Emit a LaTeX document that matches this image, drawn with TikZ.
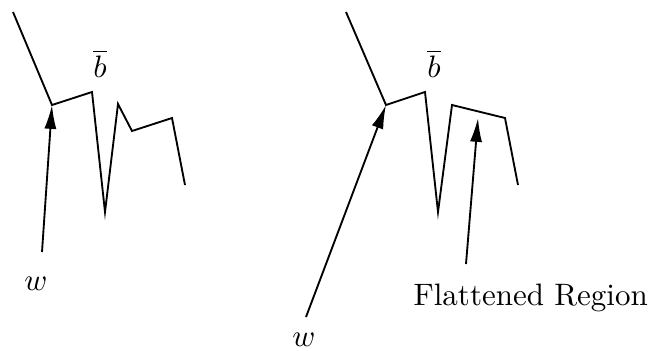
\documentclass[tikz,border=0pt]{standalone}
\usetikzlibrary{arrows.meta}
\begin{document}
\begin{tikzpicture}[x=0.3226pt,y=-0.3226pt,
  curve/.style={line width=0.6pt,line join=miter},
  ptr/.style={line width=0.6pt,-{Latex[length=7.7pt,width=3.9pt]}},
  lbl/.style={inner sep=0pt,anchor=base}]
\useasboundingbox (0,0) rectangle (652,350);
% left figure
\coordinate (a0) at (13,12);
\coordinate (a1) at (52,105);
\coordinate (a2) at (92,92);
\coordinate (a3) at (105,212);
\coordinate (a4) at (118,104);
\coordinate (a5) at (132,131);
\coordinate (a6) at (172,118);
\coordinate (a7) at (185,185);
\draw[curve] (a0) -- (a1) -- (a2) -- (a3) -- (a4) -- (a5) -- (a6) -- (a7);
\node[lbl] (bl) at (100,77) {$\overline{b}$};
\node[lbl] (wl) at (36,290) {$w$};
\coordinate (wlt) at (42,252);
\draw[ptr] (wlt) -- (a1);
% right figure
\coordinate (b0) at (346,12);
\coordinate (b1) at (386,105);
\coordinate (b2) at (425,92);
\coordinate (b3) at (438,212);
\coordinate (b4) at (452,105);
\coordinate (b5) at (505,118);
\coordinate (b6) at (518,185);
\draw[curve] (b0) -- (b1) -- (b2) -- (b3) -- (b4) -- (b5) -- (b6);
\node[lbl] (br) at (434,77) {$\overline{b}$};
\node[lbl] (wr) at (304,346) {$w$};
\coordinate (wrt) at (306,317);
\draw[ptr] (wrt) -- (b1);
\node[inner sep=0pt,anchor=base west] (fr) at (413,305) {Flattened Region};
\coordinate (frt) at (466,264);
\coordinate (frh) at (478,118);
\draw[ptr] (frt) -- (frh);
\end{tikzpicture}
\end{document}
